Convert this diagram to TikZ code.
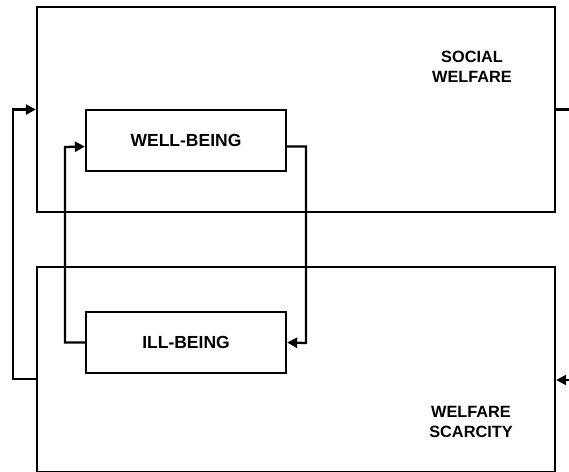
\documentclass[tikz,border=0pt]{standalone}
\usepackage{fontspec}
\setmainfont{Liberation Sans}
\usetikzlibrary{arrows.meta}
\begin{document}
\begin{tikzpicture}[x=1pt, y=-1pt, line width=2.3pt, line join=miter, >={Triangle[length=10pt,width=10pt]},
	box/.style={draw, rectangle, inner sep=0pt, font=\bfseries\fontsize{17.5}{20}\selectfont},
	lbl/.style={align=center, font=\bfseries\fontsize{16.3}{20}\selectfont}]
	\useasboundingbox (0,0) rectangle (569,471);
	\path 
	(296,109.5) node[box, minimum width=518pt, minimum height=205pt] (sw) {}
	(296,369.5) node[box, minimum width=518pt, minimum height=205pt] (sc) {}
	(186,140.5) node[box, minimum width=200pt, minimum height=61pt] (wb) {WELL-BEING}
	(186,342.5) node[box, minimum width=200pt, minimum height=61pt] (ib) {ILL-BEING}
	(472,67) node[lbl] (swl) {SOCIAL\\WELFARE}
	(471,422) node[lbl] (scl) {WELFARE\\SCARCITY}
	(569,109.5) coordinate (out)
	(569,380) coordinate (in);
	% loops between the boxes
	\draw[->] ([yshift=-6pt]wb.east) -| (306,343) -- (ib.east);
	\draw[->] (ib.west) -| (65,147) -- ([yshift=-6pt]wb.west);
	\draw[->] ([yshift=-9.5pt]sc.west) -| (13,109.5) -- (sw.west);
	\draw (sw.east) -- (out);
	\draw[->] (in) -- ([yshift=-10.5pt]sc.east);
\end{tikzpicture}
\end{document}
